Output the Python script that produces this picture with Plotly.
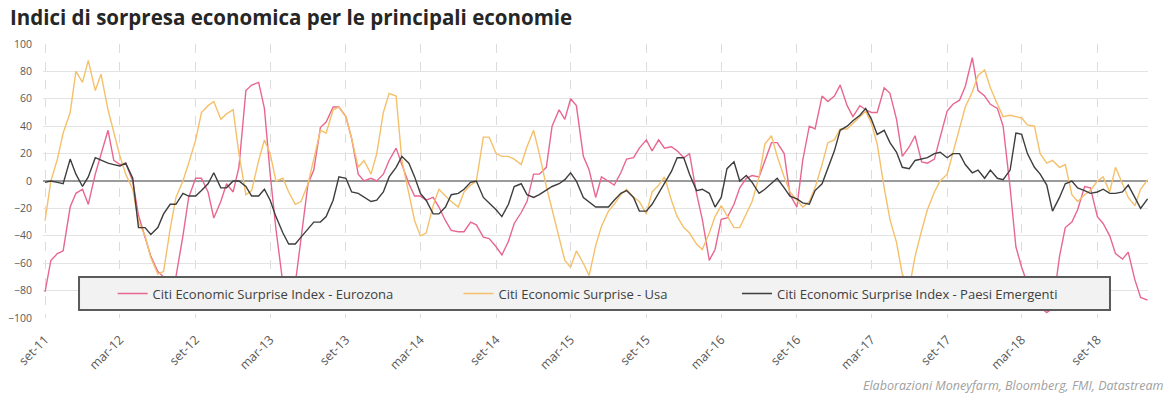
import pandas as pd
import plotly.graph_objects as go

# Semi-monthly observations, Sep 2011 - Jan 2019
DATE_START = "2011-09-01"
N_OBS = 177

EUROZONA = [
    -81, -58, -53, -51, -19, -9, -6, -17, 5, 20, 37, 15, 12, 13, 0, -25, -41, -55, -66, -70,
    -70, -70, -40, -12, 2, 2, -8, -27, -15, -2, -8, 10, 66, 70, 72, 53, 5, -35, -75, -82,
    -75, -40, -2, 8, 39, 43, 54, 54, 47, 31, 5, 0, 2, 0, 5, 15, 24, 12, -2, -11, -11,
    -14, -12, -19, -29, -36, -37, -37, -30, -32, -41, -42, -48, -54, -44, -31, -23, -15, 5, 5, 10,
    40, 52, 45, 60, 55, 18, 8, -12, 3, 0, -3, 6, 16, 17, 24, 30, 22, 30, 24, 25,
    22, 17, 20, -9, -28, -58, -50, -28, -27, -17, -5, 2, 4, 3, 15, 28, 28, 20, -10, -19,
    15, 40, 38, 62, 58, 62, 70, 55, 47, 55, 52, 50, 50, 68, 64, 45, 18, 25, 33, 14,
    13, 16, 32, 51, 56, 59, 69, 90, 66, 62, 56, 53, 40, -5, -48, -63, -75, -90, -92, -96,
    -93, -55, -34, -30, -21, -4, -5, -26, -31, -40, -53, -57, -52, -72, -85, -87,
]

USA = [
    -29, 0, 16, 35, 50, 80, 72, 88, 66, 78, 52, 35, 18, 5, -6, -30, -40, -56, -68, -66,
    -35, -12, 0, 13, 30, 50, 55, 58, 45, 49, 52, 20, -10, -7, 15, 30, 20, 0, 2, -8,
    -17, -15, -2, 16, 37, 35, 52, 54, 47, 31, 10, 15, 5, 20, 50, 64, 62, 15, -9, -29, -40,
    -38, -18, -6, -11, -15, -19, -8, -3, 0, 32, 32, 20, 18, 18, 16, 12, 25, 37, 20, -4,
    -21, -40, -58, -63, -51, -60, -69, -47, -33, -22, -17, -10, -6, -12, -15, -24, -8, -3, 3, -14,
    -26, -34, -38, -46, -50, -38, -26, -18, -25, -34, -34, -24, -15, 3, 27, 33, 18, 3, -8, -14,
    -19, -15, -5, 12, 28, 30, 38, 38, 42, 47, 51, 42, 27, -5, -28, -45, -68, -78, -55, -36,
    -21, -8, 0, 5, 20, 38, 54, 65, 77, 81, 68, 56, 47, 48, 47, 46, 41, 40, 20, 13,
    15, 10, 12, -10, -15, -10, -7, 0, 3, -8, 10, -2, -12, -18, -6, 1,
]

EMERGENTI = [
    -1, 0, -1, -2, 16, 5, -4, 3, 17, 15, 13, 12, 11, 13, 2, -34, -34, -39, -34, -24,
    -17, -17, -9, -11, -11, -7, -2, 6, -5, -5, 0, 0, -4, -11, -11, -6, -14, -26, -38, -46,
    -46, -41, -35, -30, -30, -26, -14, 3, 2, -8, -9, -12, -15, -14, -8, 3, 10, 18, 13, 3, -9,
    -14, -24, -24, -19, -10, -9, -6, -1, 0, -12, -16, -21, -26, -17, -4, -2, -10, -12, -10, -7,
    -4, -2, 1, 6, 0, -12, -15, -19, -19, -19, -14, -9, -7, -12, -22, -22, -17, -9, -1, 7,
    17, 17, 5, -7, -6, -9, -19, -12, 9, 14, 0, 4, -1, -9, -6, -2, 2, -5, -11, -13,
    -16, -17, -7, -2, 9, 22, 37, 40, 44, 48, 53, 45, 34, 37, 28, 21, 10, 9, 15, 16,
    17, 20, 21, 17, 20, 20, 12, 6, 8, 2, 8, 2, 1, 8, 35, 34, 20, 10, 5, -3,
    -22, -12, -2, 0, -5, -7, -9, -8, -6, -9, -9, -8, -3, -12, -20, -13,
]

SERIES_NAMES = [
    "Citi Economic Surprise Index - Eurozona",
    "Citi Economic Surprise - Usa",
    "Citi Economic Surprise Index - Paesi Emergenti",
]

TICK_DATES = [
    "2011-09-01", "2012-03-01", "2012-09-01", "2013-03-01", "2013-09-01",
    "2014-03-01", "2014-09-01", "2015-03-01", "2015-09-01", "2016-03-01",
    "2016-09-01", "2017-03-01", "2017-09-01", "2018-03-01", "2018-09-01",
]
TICK_LABELS = [
    "set-11", "mar-12", "set-12", "mar-13", "set-13",
    "mar-14", "set-14", "mar-15", "set-15", "mar-16",
    "set-16", "mar-17", "set-17", "mar-18", "set-18",
]

dates = pd.date_range(DATE_START, periods=N_OBS, freq="SMS")

COLORS = ["#e8678f", "#f5c06a", "#3d3d3d"]
FONT = "Open Sans"

fig = go.Figure()
for name, values, color, leg in zip(
    SERIES_NAMES, [EUROZONA, USA, EMERGENTI], COLORS, ["legend", "legend2", "legend3"]
):
    fig.add_trace(
        go.Scatter(
            x=dates,
            y=values,
            name=name,
            mode="lines",
            line=dict(color=color, width=1.4),
            legend=leg,
        )
    )

legend_common = dict(
    orientation="h",
    yref="paper",
    y=0.089,
    yanchor="middle",
    xanchor="left",
    bgcolor="rgba(0,0,0,0)",
    borderwidth=0,
    font=dict(family=FONT, size=13, color="#404040"),
    itemwidth=30,
)

fig.update_layout(
    width=1169,
    height=399,
    margin=dict(l=43, r=21, t=44, b=81),
    paper_bgcolor="white",
    plot_bgcolor="white",
    showlegend=True,
    title=dict(
        text="<b>Indici di sorpresa economica per le principali economie</b>",
        x=10 / 1169,
        xref="container",
        xanchor="left",
        y=1 - 18 / 399,
        yref="container",
        yanchor="middle",
        font=dict(family=FONT, size=20.5, color="#262626"),
    ),
    legend=dict(x=0.063, **legend_common),
    legend2=dict(x=0.376, **legend_common),
    legend3=dict(x=0.628, **legend_common),
    xaxis=dict(
        type="date",
        range=["2011-08-27", "2019-01-02"],
        automargin=False,
        tickmode="array",
        tickvals=TICK_DATES,
        ticktext=TICK_LABELS,
        tickangle=-45,
        tickfont=dict(family=FONT, size=12.5, color="#595959"),
        ticklabelstandoff=11,
        showgrid=True,
        gridcolor="#dcdcdc",
        griddash="dash",
        gridwidth=1,
        showline=False,
        zeroline=False,
        ticks="",
    ),
    yaxis=dict(
        range=[-100, 100],
        automargin=False,
        tickvals=[-100, -80, -60, -40, -20, 0, 20, 40, 60, 80, 100],
        tickfont=dict(family=FONT, size=10.5, color="#595959"),
        showgrid=True,
        gridcolor="#e3e3e3",
        gridwidth=1,
        zeroline=True,
        zerolinecolor="#9a9a9a",
        zerolinewidth=1.5,
        showline=False,
        ticks="",
        ticklabelstandoff=10,
    ),
    shapes=[
        dict(
            type="rect",
            xref="paper",
            yref="paper",
            x0=0.0326,
            x1=0.9656,
            y0=0.0292,
            y1=0.1496,
            fillcolor="#f2f2f2",
            line=dict(color="#5a5a5a", width=2),
            layer="above",
        )
    ],
    annotations=[
        dict(
            text="<i>Elaborazioni Moneyfarm, Bloomberg, FMI, Datastream</i>",
            xref="paper",
            yref="paper",
            x=1.0154,
            y=-0.247,
            xanchor="right",
            yanchor="middle",
            showarrow=False,
            font=dict(family=FONT, size=12.5, color="#a0a0a0"),
        )
    ],
)

fig.write_html("out.html")
